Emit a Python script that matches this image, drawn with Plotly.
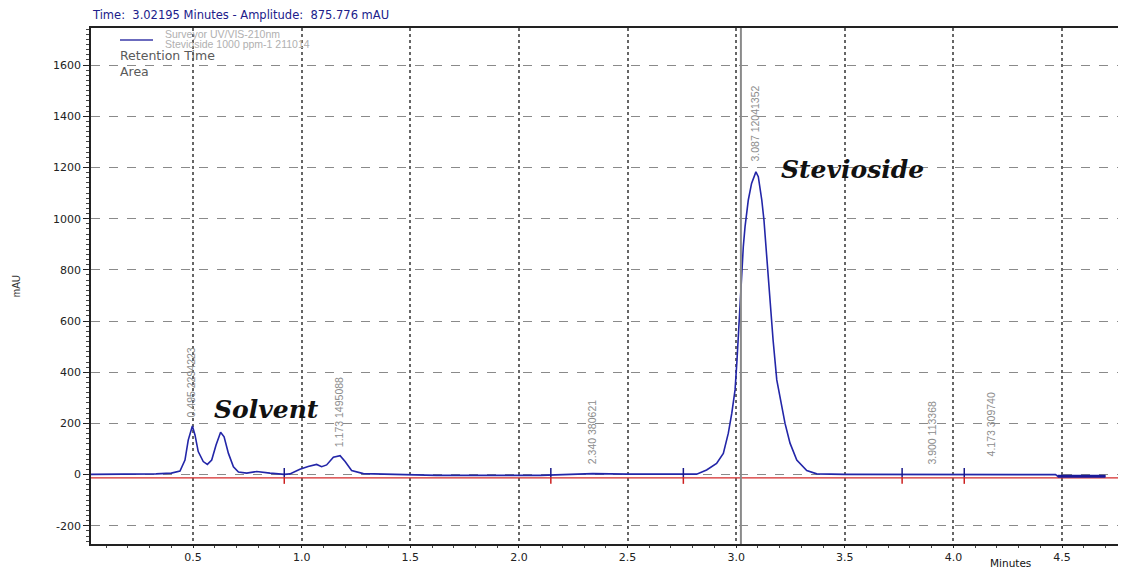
import plotly.graph_objects as go

# ---------------- data ----------------
times = [0.03, 0.20, 0.33, 0.40, 0.425, 0.44, 0.463, 0.478, 0.497, 0.509, 0.524, 0.547,
         0.566, 0.586, 0.606, 0.627, 0.643, 0.663, 0.686, 0.709, 0.747, 0.793, 0.854,
         0.92, 0.946, 0.992, 1.03, 1.069, 1.092, 1.115, 1.146, 1.177, 1.20, 1.23, 1.284,
         1.438, 1.62, 2.10, 2.147, 2.20, 2.34, 2.50, 2.757, 2.818, 2.864, 2.91, 2.941,
         2.964, 2.98, 2.995, 3.004, 3.018, 3.033, 3.041, 3.056, 3.071, 3.091, 3.102,
         3.118, 3.128, 3.137, 3.156, 3.17, 3.187, 3.202, 3.225, 3.248, 3.279, 3.325,
         3.371, 3.50, 3.764, 3.90, 4.05, 4.173, 4.47, 4.48, 4.70]
amplitude = [1, 1, 3, 6, 10, 14, 57, 135, 190, 155, 90, 51,
             40, 57, 116, 166, 148, 83, 31, 10, 6, 12, 6,
             1, 3, 21, 32, 40, 31, 38, 68, 74, 51, 16, 4,
             2, -3, -3, -2, 2, 4, 2, 0, 2, 18, 44, 83,
             162, 240, 331, 448, 682, 891, 969, 1073, 1138, 1183, 1164,
             1073, 995, 891, 682, 526, 370, 300, 200, 123, 57, 16,
             3, 1, 0, 1, 0, 1, 0, -6, -6]

baseline_x = [0.0, 4.80]
baseline_y = [-13, -13]

event_times = [0.92, 2.147, 2.757, 3.764, 4.05]

peak_times = [0.495, 1.173, 2.340, 3.087, 3.900, 4.173]
peak_areas = [2294223, 1495088, 380621, 12041352, 113368, 309740]
peak_label_y = [360, 245, 165, 1372, 163, 196]

cursor_time = 3.02195
cursor_amp = 875.776

legend_lines = ["Surveyor UV/VIS-210nm", "Stevioside 1000 ppm-1 211014"]
info_lines = ["Retention Time", "Area"]

y_ticks = [-200, 0, 200, 400, 600, 800, 1000, 1200, 1400, 1600]
x_ticks = [0.5, 1.0, 1.5, 2.0, 2.5, 3.0, 3.5, 4.0, 4.5]

# ---------------- figure ----------------
BODY = 8  # default page margin around the figure
W, H = 1126 - BODY, 571 - BODY
PL, PR, PT, PB = 91, 1126, 28, 544  # plot area in page pixels
X_RANGE = [0.0304, 4.7945]
Y_RANGE = [-271, 1745]


def px(xpix):
    return (xpix - PL) / (PR - PL)


def py(ypix):
    return (PB - ypix) / (PB - PT)


fig = go.Figure()

# red baseline
fig.add_trace(go.Scatter(x=baseline_x, y=baseline_y, mode="lines",
                         line=dict(color="#d42a2a", width=1.3),
                         showlegend=False, hoverinfo="skip"))

# chromatogram
fig.add_trace(go.Scatter(x=times, y=amplitude, mode="lines",
                         line=dict(color="#2326a8", width=1.6),
                         name=legend_lines[0], showlegend=False))

# thick tail segment
tail_idx = [i for i, t in enumerate(times) if t >= 4.48]
fig.add_trace(go.Scatter(x=[times[i] for i in tail_idx], y=[amplitude[i] for i in tail_idx],
                         mode="lines", line=dict(color="#1a1a9a", width=3),
                         showlegend=False, hoverinfo="skip"))

# integration event markers
mx_b, my_b, mx_r, my_r = [], [], [], []
for t in event_times:
    mx_b += [t, t, None]
    my_b += [26, -10, None]
    mx_r += [t, t, None]
    my_r += [-10, -36, None]
fig.add_trace(go.Scatter(x=mx_b, y=my_b, mode="lines", line=dict(color="#1a1a8a", width=1.5),
                         showlegend=False, hoverinfo="skip"))
fig.add_trace(go.Scatter(x=mx_r, y=my_r, mode="lines", line=dict(color="#cc2020", width=1.5),
                         showlegend=False, hoverinfo="skip"))

# cursor line
fig.add_vline(x=cursor_time, line=dict(color="#8a8a8a", width=2))

# peak labels
for t, a, ly in zip(peak_times, peak_areas, peak_label_y):
    fig.add_annotation(x=t, y=ly, text=f"{t:.3f} {a}", textangle=-90, showarrow=False,
                       xanchor="center", yanchor="middle",
                       font=dict(family="Liberation Sans, Arial", size=10.5, color="#8c8c8c"))

# compound labels
fig.add_annotation(x=0.839, y=255, text="<b><i>Solvent</i></b>", showarrow=False,
                   font=dict(family="DejaVu Serif", size=25, color="#111111"))
fig.add_annotation(x=3.537, y=1194, text="<b><i>Stevioside</i></b>", showarrow=False,
                   font=dict(family="DejaVu Serif", size=25, color="#111111"))

# header
fig.add_annotation(xref="paper", yref="paper", x=px(90), y=py(15), xanchor="left", yanchor="middle",
                   text=f"Time:  {cursor_time} Minutes - Amplitude:  {cursor_amp} mAU",
                   showarrow=False,
                   font=dict(family="DejaVu Sans", size=11.5, color="#20208a"))

# legend block (sample line + two light-grey lines)
fig.add_shape(type="line", xref="paper", yref="paper", x0=px(120), x1=px(153), y0=py(40), y1=py(40),
              line=dict(color="#3a3aa8", width=1.5))
for txt, yy in zip(legend_lines, [33.5, 44.5]):
    fig.add_annotation(xref="paper", yref="paper", x=px(164), y=py(yy), xanchor="left", yanchor="middle",
                       text=txt, showarrow=False, borderpad=0,
                       font=dict(family="Liberation Sans, Arial", size=10.5, color="#b0b0b0"))
for txt, yy in zip(info_lines, [55.5, 71.5]):
    fig.add_annotation(xref="paper", yref="paper", x=px(119), y=py(yy), xanchor="left", yanchor="middle",
                       text=txt, showarrow=False, borderpad=0,
                       font=dict(family="DejaVu Sans", size=12.5, color="#5a5a5a"))

# x axis title
fig.add_annotation(xref="paper", yref="paper", x=px(1010), y=py(556), xanchor="center", yanchor="top",
                   text="Minutes", showarrow=False, borderpad=0,
                   font=dict(family="DejaVu Sans", size=10.5, color="#111111"))

fig.update_layout(
    width=W, height=H,
    margin=dict(l=PL - BODY, r=0, t=PT - BODY, b=H + BODY - PB, autoexpand=False),
    paper_bgcolor="white", plot_bgcolor="white",
    showlegend=False,
    xaxis=dict(range=X_RANGE, tickvals=x_ticks, ticktext=[f"{v:.1f}" for v in x_ticks],
               showgrid=True, gridcolor="#666666", gridwidth=1.5, griddash="dot",
               zeroline=False, showline=True, linecolor="#222222", linewidth=1.5, mirror=True,
               ticks="outside", ticklen=2, tickcolor="#222222",
               minor=dict(dtick=0.1, tick0=0, ticks="outside", ticklen=2, tickcolor="#444444", showgrid=False),
               tickfont=dict(family="DejaVu Sans", size=11, color="#222222")),
    yaxis=dict(range=Y_RANGE, tickvals=y_ticks, ticktext=[str(v) for v in y_ticks],
               showgrid=True, gridcolor="#8a8a8a", gridwidth=1, griddash="dash",
               zeroline=False, showline=True, linecolor="#222222", linewidth=1.5,
               ticks="outside", ticklen=6, tickcolor="#222222",
               minor=dict(dtick=20, tick0=0, ticks="outside", ticklen=3, tickcolor="#444444", showgrid=False),
               tickfont=dict(family="DejaVu Sans", size=11, color="#222222"),
               title=dict(text="mAU", standoff=31,
                          font=dict(family="Liberation Sans, Arial", size=10, color="#333333"))),
)

fig.write_html("out.html")
